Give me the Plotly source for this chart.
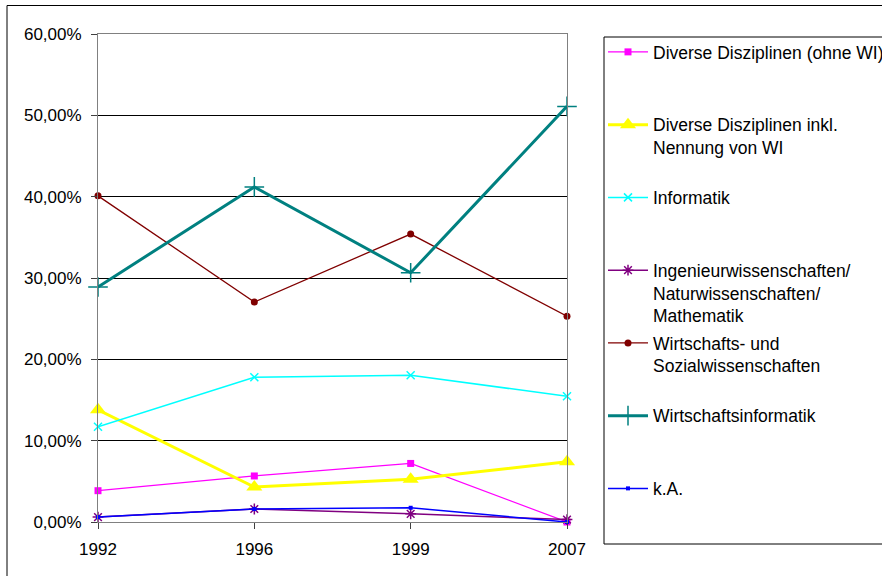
import plotly.graph_objects as go

# ---- data (percent) ----
years = ["1992", "1996", "1999", "2007"]
diverse_ohne = [3.85, 5.66, 7.2, 0.0]
diverse_inkl = [13.8, 4.3, 5.25, 7.4]
informatik = [11.7, 17.8, 18.05, 15.45]
ingenieur = [0.6, 1.6, 1.0, 0.3]
wiso = [40.1, 27.05, 35.4, 25.3]
wirtschaftsinformatik = [28.9, 41.2, 30.65, 51.1]
ka = [0.6, 1.6, 1.75, 0.0]

names = [
    "Diverse Disziplinen (ohne WI)",
    "Diverse Disziplinen inkl.<br>Nennung von WI",
    "Informatik",
    "Ingenieurwissenschaften/<br>Naturwissenschaften/<br>Mathematik",
    "Wirtschafts- und<br>Sozialwissenschaften",
    "Wirtschaftsinformatik",
    "k.A.",
]
y_ticks = [0, 10, 20, 30, 40, 50, 60]
y_tick_labels = ["0,00%", "10,00%", "20,00%", "30,00%", "40,00%", "50,00%", "60,00%"]

W, H = 882, 576
L, R, T, B = 98, 315, 34, 54
pw, ph = W - L - R, H - T - B


def px_x(x):
    return (x - L) / pw


def px_y(y):
    return (H - B - y) / ph


def pad(name, n=3):
    lines = name.count("<br>") + 1
    return name + "<br>\u00a0" * (n - lines)


series = [
    (diverse_ohne, "#FF00FF", 1.2, "square", 7, None),
    (diverse_inkl, "#FFFF00", 3, "triangle-up", 14, None),
    (informatik, "#00FFFF", 1.5, "x-thin", 8, 1.5),
    (ingenieur, "#800080", 1.5, "asterisk", 9, 1.5),
    (wiso, "#800000", 1.3, "circle", 7, None),
    (wirtschaftsinformatik, "#008080", 3, "cross-thin", 14, 1.5),
    (ka, "#0000FF", 1.5, "square", 4, None),
]

fig = go.Figure()
for i, ((vals, col, lw, sym, ms, mlw), name) in enumerate(zip(series, names)):
    marker = dict(symbol=sym, size=ms, color=col)
    if mlw is not None:
        marker["line"] = dict(color=col, width=mlw)
    fig.add_trace(go.Scatter(
        x=years, y=vals, name=pad(name), mode="lines+markers",
        line=dict(color=col, width=lw), marker=marker, cliponaxis=False,
        legendgroup=f"g{i}",
    ))

fam = "Liberation Sans, Arial, sans-serif"
tick_font = dict(family=fam, size=17, color="black")
leg_font = dict(family=fam, size=17.5, color="black")

fig.update_layout(
    width=W, height=H,
    margin=dict(l=L, r=R, t=T, b=B, autoexpand=False),
    paper_bgcolor="white", plot_bgcolor="white",
    font=tick_font,
    showlegend=True,
    legend=dict(
        x=px_x(603), y=px_y(34), xanchor="left", yanchor="top",
        xref="paper", yref="paper",
        valign="top", tracegroupgap=1.5, itemwidth=40,
        font=leg_font, bgcolor="rgba(0,0,0,0)", borderwidth=0,
        traceorder="grouped",
    ),
    xaxis=dict(
        type="category", range=[0, 3], showgrid=False,
        showline=True, linecolor="#808080", linewidth=1, mirror=True,
        ticks="outside", ticklen=6, tickcolor="#404040",
        tickfont=tick_font, zeroline=False, ticklabelstandoff=6,
    ),
    yaxis=dict(
        range=[0, 60], tickvals=y_ticks, ticktext=y_tick_labels,
        showgrid=True, gridcolor="black", gridwidth=1,
        showline=True, linecolor="#808080", linewidth=1, mirror=True,
        ticks="outside", ticklen=6, tickcolor="#404040",
        tickfont=tick_font, zeroline=False, ticklabelstandoff=6,
    ),
    shapes=[
        # outer chart border
        dict(type="rect", xref="paper", yref="paper",
             x0=px_x(7), x1=px_x(1000), y0=px_y(700), y1=px_y(5.5),
             line=dict(color="black", width=1), fillcolor="rgba(0,0,0,0)"),
        # legend border
        dict(type="rect", xref="paper", yref="paper",
             x0=px_x(604), x1=px_x(1000), y0=px_y(544), y1=px_y(37),
             line=dict(color="black", width=1), fillcolor="rgba(0,0,0,0)"),
    ],
)

fig.write_html(
    "out.html",
    config={"displayModeBar": False},
    post_script="document.body.style.margin='0';document.body.style.overflow='hidden';",
)
